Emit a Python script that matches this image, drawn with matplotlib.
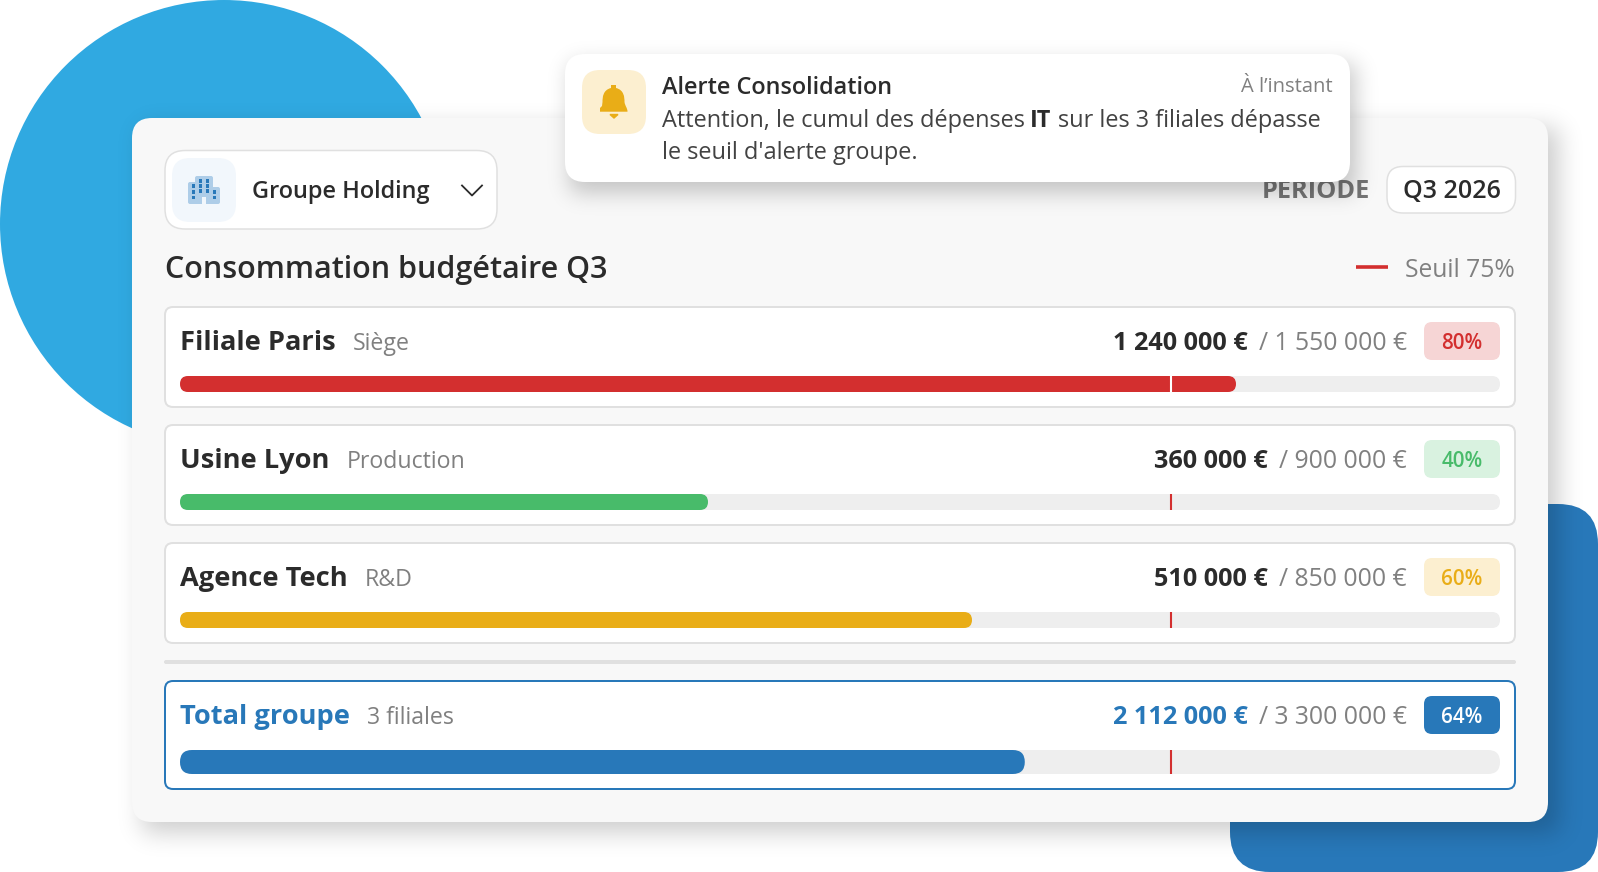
import math
import numpy as np
import matplotlib
matplotlib.use("Agg")
import matplotlib.pyplot as plt
from matplotlib.patches import FancyBboxPatch, Circle, Rectangle, PathPatch
from matplotlib.path import Path

W, H = 1598, 872

names = ["Filiale Paris", "Usine Lyon", "Agence Tech", "Total groupe"]
subs = ["Siège", "Production", "R&D", "3 filiales"]
spent = [1240000, 360000, 510000, 2112000]
budgets = [1550000, 900000, 850000, 3300000]
pcts = [80, 40, 60, 64]
threshold = 75

bar_colors = ["#d32f2f", "#48bb6a", "#e9ad17", "#2878b9"]
badge_bg = ["#f6d5d5", "#d9f2e0", "#fcefd0", "#2878b9"]
badge_fg = ["#d32f2f", "#48bb6a", "#e9ad17", "#ffffff"]

row_tops = [306, 424, 542, 680]
row_bottoms = [408, 526, 644, 790]
track_tops = [376, 494, 612, 750]
track_bottoms = [392, 510, 628, 774]
badge_tops = [322, 440, 558, 696]

DARK = "#2b2b2b"
GRAY = "#808080"
plt.rcParams["font.family"] = ["Open Sans", "DejaVu Sans"]

fig = plt.figure(figsize=(W / 100, H / 100), dpi=100)
ax = fig.add_axes([0, 0, 1, 1])
ax.set_xlim(0, W)
ax.set_ylim(H, 0)
ax.axis("off")
renderer = fig.canvas.get_renderer()


def rrect(a, x0, y0, x1, y1, r, fc, ec="none", lw=0, z=2):
    p = FancyBboxPatch((x0, y0), x1 - x0, y1 - y0,
                       boxstyle=f"round,pad=0,rounding_size={r}",
                       fc=fc, ec=ec, lw=lw * 0.72, zorder=z)
    a.add_patch(p)
    return p


def shadow(x0, y0, x1, y1, sigma, alpha, z):
    # gaussian blurred box, same look as a css box-shadow
    pad = int(sigma * 3)
    xs = np.arange(int(x0) - pad, int(x1) + pad)
    ys = np.arange(int(y0) - pad, int(y1) + pad)
    erf = np.vectorize(math.erf)
    k = sigma * math.sqrt(2)
    fx = (erf((xs - x0) / k) - erf((xs - x1) / k)) / 2
    fy = (erf((ys - y0) / k) - erf((ys - y1) / k)) / 2
    img = np.zeros((len(ys), len(xs), 4))
    img[..., 3] = np.outer(fy, fx) * alpha
    ax.imshow(img, extent=(xs[0], xs[-1] + 1, ys[-1] + 1, ys[0]),
              aspect="auto", zorder=z, interpolation="bilinear")


def label(x, y, s, size, color=DARK, weight="normal", ha="left", z=6):
    return ax.text(x, y, s, fontsize=size, color=color, fontweight=weight,
                   ha=ha, va="baseline", zorder=z)


def right_edge(t):
    return ax.transData.inverted().transform(t.get_window_extent(renderer))[1][0]


def left_edge(t):
    return ax.transData.inverted().transform(t.get_window_extent(renderer))[0][0]


def money(v):
    return f"{v:,}".replace(",", " ") + " €"


# background shapes
ax.add_patch(Circle((224, 224), 224, fc="#30a9e1", ec="none", zorder=1))
rrect(ax, 1230, 504, 1598, 872, 40, "#2878b9", z=1)

# main card
shadow(142, 128, 1558, 832, 12, 0.2, 2)
rrect(ax, 132, 118, 1548, 822, 20, "#f8f8f8", z=3)

# selector
rrect(ax, 165, 150.5, 497, 229, 20, "#ffffff", "#e0e0e0", 1.5, z=4)
rrect(ax, 172, 158, 236, 222, 18, "#f2f7fc", z=5)
rrect(ax, 195, 176, 213, 204, 2, "#aecde8", z=6)
rrect(ax, 188, 182, 200, 204, 2, "#aecde8", z=6)
rrect(ax, 208, 187, 220, 204, 2, "#aecde8", z=6)
ax.add_patch(Rectangle((202, 197), 4, 7, fc="#f2f7fc", ec="none", zorder=7))
for dx, dy in [(200, 181), (207, 181), (193, 186), (200, 186), (207, 186),
               (193, 192), (200, 191), (207, 191), (214, 192), (193, 197), (214, 197)]:
    ax.add_patch(Rectangle((dx - 1.5, dy - 1.5), 3.2, 3.2, fc="#2878b9", ec="none", zorder=7))
label(252, 198, "Groupe Holding", 16.9, weight="semibold")
ax.plot([462, 472, 482], [185.5, 195.5, 185.5], color=DARK, lw=1.3, zorder=6)

# period pill
label(1370, 198, "PERIODE", 18.3, color="#757575", weight="bold", ha="right")
rrect(ax, 1387, 166.5, 1515.5, 213, 16, "#ffffff", "#e0e0e0", 1.5, z=4)
label(1451.5, 198, "Q3 2026", 18, weight="semibold", ha="center")

# title and legend
label(165, 278, "Consommation budgétaire Q3", 22, weight="semibold")
ax.plot([1356, 1388], [267.5, 267.5], color="#d32f2f", lw=2.6, solid_capstyle="butt", zorder=6)
label(1515, 277, f"Seuil {threshold}%", 17.7, color=GRAY, ha="right")

# rows
for i in range(len(names)):
    is_total = i == len(names) - 1
    edge = "#2878b9" if is_total else "#e0e0e0"
    rrect(ax, 165, row_tops[i] + 1, 1515, row_bottoms[i] - 1, 8, "#ffffff", edge, 2, z=4)
    base = row_tops[i] + 44

    t = label(180, base, names[i], 19.6, color="#2878b9" if is_total else DARK, weight="bold")
    label(right_edge(t) + 17, base, subs[i], 16.7, color=GRAY)

    rrect(ax, 1424, badge_tops[i], 1500, badge_tops[i] + 38, 8, badge_bg[i], z=5)
    ax.text(1462, badge_tops[i] + 19, f"{pcts[i]}%", fontsize=14.8, color=badge_fg[i],
            fontweight="semibold", ha="center", va="center_baseline", zorder=6)

    t = label(1407, base, "/ " + money(budgets[i]), 17.8, color=GRAY, ha="right")
    label(left_edge(t) - 11, base, money(spent[i]), 18.2,
          color="#2878b9" if is_total else DARK, weight="bold", ha="right")

    # progress bar in its own axes, 0-100 %
    h_px = track_bottoms[i] - track_tops[i]
    bar_ax = fig.add_axes([180 / W, 1 - track_bottoms[i] / H, 1320 / W, h_px / H], zorder=5)
    bar_ax.set_xlim(0, 100)
    bar_ax.set_ylim(0, 1)
    bar_ax.axis("off")
    r = h_px / 2 / 13.2
    aspect = 13.2 / h_px
    for width, col, z in [(100, "#eeeeee", 1), (pcts[i], bar_colors[i], 2)]:
        bar_ax.add_patch(FancyBboxPatch((0, 0), width, 1,
                                        boxstyle=f"round,pad=0,rounding_size={r}",
                                        mutation_aspect=aspect, fc=col, ec="none",
                                        zorder=z, clip_on=False))
    tick = "#ffffff" if pcts[i] > threshold else "#d32f2f"
    # nudge one pixel to the right, the line snaps to the left otherwise
    tick_x = threshold + 1 / 13.2
    bar_ax.plot([tick_x, tick_x], [0, 1], color=tick, lw=1.5, zorder=3,
                solid_capstyle="butt")

# separator
rrect(ax, 164, 660, 1516, 664, 2, "#e0e0e0", z=4)

# notification
shadow(570, 64, 1355, 192, 11, 0.22, 8)
rrect(ax, 565, 54, 1350, 182, 20, "#ffffff", z=9)
rrect(ax, 582, 70, 646, 134, 18, "#fcefd0", z=10)
bell = Path([(613.5, 85), (616, 85), (616, 88),
             (624, 90), (624.5, 97), (624.5, 102), (625, 106), (627.5, 108), (627.5, 111.7),
             (600, 111.7), (600, 108), (602, 106), (602.5, 102),
             (602.5, 97), (603, 90), (611, 88), (611, 85), (613.5, 85), (613.5, 85)],
            [Path.MOVETO, Path.LINETO, Path.LINETO,
             Path.CURVE4, Path.CURVE4, Path.CURVE4, Path.CURVE4, Path.CURVE4, Path.CURVE4,
             Path.LINETO, Path.LINETO, Path.LINETO, Path.LINETO,
             Path.CURVE4, Path.CURVE4, Path.CURVE4, Path.LINETO, Path.LINETO, Path.CLOSEPOLY])
ax.add_patch(PathPatch(bell, fc="#e9ad17", ec="none", zorder=11))
ax.fill([610, 618, 614], [114.5, 114.5, 118], color="#e9ad17", zorder=11)

label(662, 94, "Alerte Consolidation", 16.9, weight="semibold", z=12)
label(1333, 92.5, "À l’instant", 14.5, color=GRAY, ha="right", z=12)
t = label(662, 127, "Attention, le cumul des dépenses", 16.93, color="#424242", z=12)
t2 = label(right_edge(t) + 5, 127, "IT", 16.93, weight="bold", z=12)
label(right_edge(t2) + 7, 127, "sur les 3 filiales dépasse", 16.93, color="#424242", z=12)
label(662, 159, "le seuil d'alerte groupe.", 16.93, color="#424242", z=12)

ax.set_xlim(0, W)
ax.set_ylim(H, 0)
fig.savefig("out.png", dpi=100)
